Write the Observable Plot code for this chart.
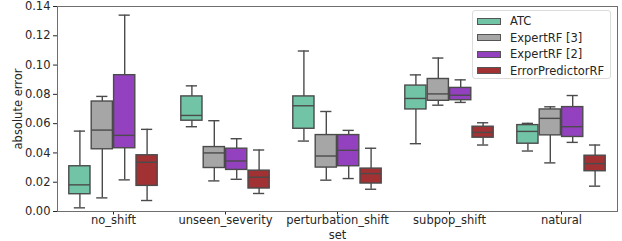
<!DOCTYPE html>
<html>
<head>
<meta charset="utf-8">
<script src="https://cdn.jsdelivr.net/npm/d3@7"></script>
<script src="https://cdn.jsdelivr.net/npm/@observablehq/plot@0.6"></script>
<style>
  html, body { margin: 0; padding: 0; background: white; }
  #wrap { position: relative; width: 622px; height: 241px; font-family: "DejaVu Sans", sans-serif; }
  #legend { position: absolute; left: 472px; top: 10px; width: 139px; height: 69px; box-sizing: border-box;
            border: 1px solid #dcdcdc; border-radius: 3px; background: rgba(255,255,255,0.85);
            font-size: 11.5px; color: #262626; }
  .row { position: absolute; left: 4px; height: 16px; display: flex; align-items: center; }
  .sw { width: 24px; height: 7px; border: 1px solid #555; box-sizing: border-box; margin-right: 9px; }
</style>
</head>
<body>
<div id="wrap"><div id="legend"></div></div>
<script>
// ---- data ----
const sets = ["no_shift", "unseen_severity", "perturbation_shift", "subpop_shift", "natural"];
const series = ["ATC", "ExpertRF [3]", "ExpertRF [2]", "ErrorPredictorRF"];
const colors = ["#71c4a5", "#a6a6a6", "#9441c0", "#a23133"];
const yTicks = [0, 0.02, 0.04, 0.06, 0.08, 0.10, 0.12, 0.14];

// box stats per set: [min, q1, median, q3, max]
const atc = [
  [0.0025, 0.0118, 0.0182, 0.0309, 0.0549],
  [0.0579, 0.0620, 0.0656, 0.0786, 0.0858],
  [0.0481, 0.0565, 0.0722, 0.0786, 0.1096],
  [0.0463, 0.0697, 0.0772, 0.0860, 0.0933],
  [0.0413, 0.0463, 0.0547, 0.0590, 0.0602]
];
const expertRF3 = [
  [0.0093, 0.0425, 0.0556, 0.0751, 0.0786],
  [0.0209, 0.0297, 0.0400, 0.0440, 0.0620],
  [0.0214, 0.0300, 0.0379, 0.0522, 0.0683],
  [0.0726, 0.0756, 0.0803, 0.0905, 0.1048],
  [0.0332, 0.0520, 0.0636, 0.0697, 0.0715]
];
const expertRF2 = [
  [0.0216, 0.0432, 0.0520, 0.0931, 0.1341],
  [0.0220, 0.0284, 0.0345, 0.0429, 0.0497],
  [0.0225, 0.0309, 0.0418, 0.0522, 0.0554],
  [0.0745, 0.0760, 0.0794, 0.0844, 0.0899],
  [0.0472, 0.0509, 0.0579, 0.0713, 0.0792]
];
const errorPredictorRF = [
  [0.0075, 0.0175, 0.0336, 0.0384, 0.0561],
  [0.0123, 0.0157, 0.0234, 0.0279, 0.0420],
  [0.0152, 0.0191, 0.0259, 0.0293, 0.0432],
  [0.0454, 0.0504, 0.0540, 0.0579, 0.0606],
  [0.0173, 0.0275, 0.0327, 0.0381, 0.0454]
];
const stats = [atc, expertRF3, expertRF2, errorPredictorRF];

// ---- layout ----
const W = 622, H = 241, mL = 57, mR = 5, mT = 6, mB = 30;
const band = (W - mL - mR) / sets.length;
const boxW = band * 0.8 / series.length;
const edge = "#4b4b4b";
const lw = 1.4;

const marks = [];
series.forEach((name, i) => {
  const rows = sets.map((s, j) => {
    const [min, q1, med, q3, max] = stats[i][j];
    return {set: s, series: name, min, q1, med, q3, max};
  });
  const off = -band * 0.4 + boxW * (i + 0.5);
  const inL = band / 2 + off - boxW / 2, inR = band / 2 - off - boxW / 2;
  const capL = band / 2 + off - boxW / 4, capR = band / 2 - off - boxW / 4;
  marks.push(
    Plot.ruleX(rows, {x: "set", y1: "min", y2: "q1", dx: off, stroke: edge, strokeWidth: lw}),
    Plot.ruleX(rows, {x: "set", y1: "q3", y2: "max", dx: off, stroke: edge, strokeWidth: lw}),
    Plot.tickY(rows, {x: "set", y: "min", insetLeft: capL, insetRight: capR, stroke: edge, strokeWidth: lw}),
    Plot.tickY(rows, {x: "set", y: "max", insetLeft: capL, insetRight: capR, stroke: edge, strokeWidth: lw}),
    Plot.barY(rows, {x: "set", y1: "q1", y2: "q3", fill: colors[i], stroke: edge, strokeWidth: lw,
                     insetLeft: inL + 0.6, insetRight: inR + 0.6}),
    Plot.tickY(rows, {x: "set", y: "med", insetLeft: inL + 0.6, insetRight: inR + 0.6, stroke: edge, strokeWidth: lw})
  );
});
marks.push(Plot.frame({stroke: "#6e6e6e", strokeWidth: 1}));

const chart = Plot.plot({
  width: W, height: H,
  marginLeft: mL, marginRight: mR, marginTop: mT, marginBottom: mB,
  style: {fontFamily: "DejaVu Sans, sans-serif", fontSize: "11.5px", color: "#262626", background: "white", overflow: "visible"},
  x: {domain: sets, padding: 0, label: "set", labelAnchor: "center", labelArrow: "none", labelOffset: 27.5, tickSize: 3.5, tickPadding: 0.5},
  y: {domain: [0, 0.14], ticks: yTicks, tickFormat: d3.format(".2f"), label: "absolute error", labelArrow: "none",
      labelAnchor: "center", labelOffset: 44, tickSize: 4, tickPadding: 3},
  marks
});
document.getElementById("wrap").prepend(chart);

// legend
const lg = document.getElementById("legend");
series.forEach((name, i) => {
  const r = document.createElement("div");
  r.className = "row";
  r.style.top = (2 + i * 16.5) + "px";
  const sw = document.createElement("span");
  sw.className = "sw";
  sw.style.background = colors[i];
  const t = document.createElement("span");
  t.textContent = name;
  r.append(sw, t);
  lg.append(r);
});
</script>
</body>
</html>
